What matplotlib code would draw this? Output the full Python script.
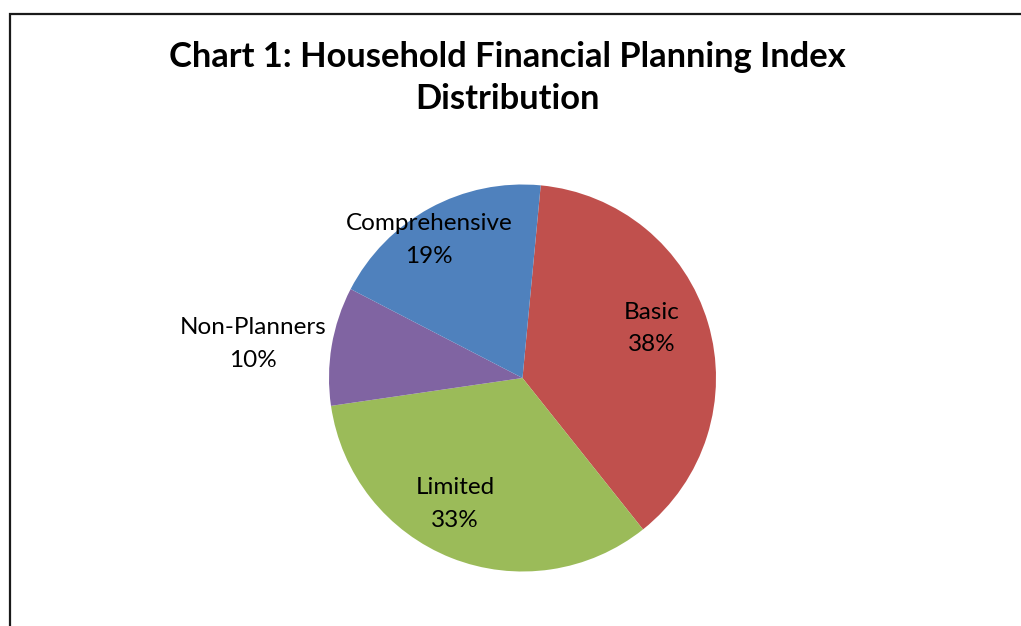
import numpy as np
import matplotlib
matplotlib.use("Agg")
import matplotlib.pyplot as plt
from matplotlib.patches import Rectangle

categories = ["Basic", "Limited", "Non-Planners", "Comprehensive"]
values = [37.8, 33.4, 9.9, 18.9]
colors = ["#C0504D", "#9BBB59", "#8064A2", "#4F81BD"]
label_radius = [0.716, 0.739, 1.404, 0.863]
label_angle_shift = [4.3, -6.6, 2.3, 5.5]  # degrees, counterclockwise
title = "Chart 1: Household Financial Planning Index\nDistribution"

W, H = 1021, 626
fig = plt.figure(figsize=(W / 100, H / 100), dpi=100)
fig.patch.set_facecolor("white")

# frame
fig.patches.append(Rectangle((9.5 / W, 0 - 0.1), 1.2, 1 - 14 / H + 0.1,
                             transform=fig.transFigure, fill=False,
                             edgecolor="#1a1a1a", linewidth=1.6))

cx, cy, r = 522.5, 378, 193.5
ax = fig.add_axes([(cx - r) / W, (H - cy - r) / H, 2 * r / W, 2 * r / H])
wedges, _ = ax.pie(values, colors=colors, startangle=84.6, counterclock=False,
                   radius=1, wedgeprops=dict(linewidth=0))
ax.set_xlim(-1, 1)
ax.set_ylim(-1, 1)
ax.set_aspect("equal")
ax.axis("off")

for w, cat, v, lr, sh in zip(wedges, categories, values, label_radius, label_angle_shift):
    ang = np.deg2rad((w.theta1 + w.theta2) / 2 + sh)
    x, y = lr * np.cos(ang), lr * np.sin(ang)
    ax.text(x, y, f"{cat}\n{v:.0f}%", ha="center", va="center",
            fontsize=17.5, family="Lato", linespacing=1.68, color="black")

fig.text(507 / W, 1 - 78 / H, title, ha="center", va="center",
         fontsize=24.8, fontweight="bold", family="Lato", linespacing=1.4)

fig.savefig("out.png", dpi=100)
